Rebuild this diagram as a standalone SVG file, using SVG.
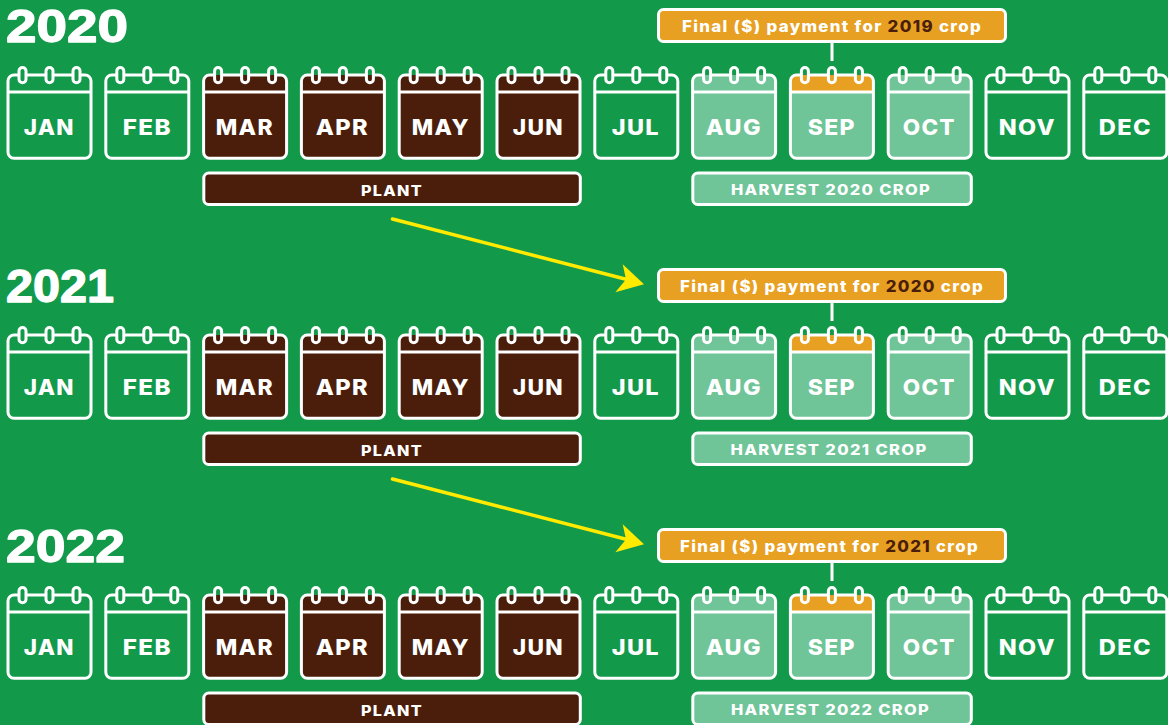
<svg xmlns="http://www.w3.org/2000/svg" width="1168" height="725" viewBox="0 0 1168 725">
<style>
text{font-family:"Inter","Liberation Sans",sans-serif;font-weight:800;fill:#fff;text-anchor:middle;letter-spacing:1px}
.y{font-family:"Liberation Sans",Arial,sans-serif;font-size:46px;font-weight:700;text-anchor:start;stroke:#fff;stroke-width:1.300px;stroke-linejoin:round;letter-spacing:0}
.m{font-size:22px;letter-spacing:1.200px}
.b{font-size:15px;letter-spacing:1.200px}
.p{font-size:15.500px;letter-spacing:1.200px}
.br{fill:#4a1e0a}
.s{fill:none;stroke:#fff;stroke-width:3}
.box{stroke:#fff;stroke-width:3}
.g{--f:#129a4a;--h:#129a4a}
.d{--f:#4a1e0a;--h:#4a1e0a}
.l{--f:#6fc498;--h:#6fc498}
.o{--f:#6fc498;--h:#e7a022}
.ar{stroke:#ffea00;stroke-width:3.500;stroke-linecap:round;fill:none}
.hd{fill:#ffea00}
.c{stroke:#fff;stroke-width:3;fill:none}
</style>
<defs>
<g id="cal">
<rect x="1.5" y="1.5" width="83" height="83" rx="6" style="fill:var(--f)"/>
<path d="M1.5 18.5V7.5a6 6 0 0 1 6-6H78.500a6 6 0 0 1 6 6V18.500Z" style="fill:var(--h)"/>
<path class="s" d="M12.500 1.500H7.500a6 6 0 0 0-6 6V78.800a6 6 0 0 0 6 6H78.500a6 6 0 0 0 6-6V7.500a6 6 0 0 0-6-6H73.500M19.500 1.500H39.500M46.500 1.500H66.500M1.500 18.500H84.500"/>
<rect class="s" x="12.500" y="-6" width="7" height="15.300" rx="3.500"/>
<rect class="s" x="39.500" y="-6" width="7" height="15.300" rx="3.500"/>
<rect class="s" x="66.500" y="-6" width="7" height="15.300" rx="3.500"/>
</g>
<g id="head"><path class="hd" d="M644 284.300L622.700 264.300L626 279.500L615.300 292.300Z"/></g>
</defs>
<rect width="1168" height="725" fill="#129a4a"/>

<g id="connectors">
<path class="c" d="M832 43V61M832 303V321M832 563V581"/>
<path class="ar" d="M392.500 219L627 279.500"/><use href="#head"/>
<path class="ar" d="M392.500 479L627 539.500"/><use href="#head" y="260"/>
</g>

<g id="year-2020"><text class="y" x="6" y="41.500" textLength="122" lengthAdjust="spacingAndGlyphs">2020</text></g>
<g id="year-2021"><text class="y" x="6" y="301.500" textLength="108" lengthAdjust="spacingAndGlyphs">2021</text></g>
<g id="year-2022"><text class="y" x="6" y="561.500" textLength="119" lengthAdjust="spacingAndGlyphs">2022</text></g>

<g id="pay-2019"><rect class="box" x="658.500" y="9.500" width="347" height="32" rx="5" fill="#e7a022"/><text class="p" x="832" y="32" textLength="300" lengthAdjust="spacingAndGlyphs">Final ($) payment for <tspan class="br">2019</tspan> crop</text></g>
<g id="pay-2020"><rect class="box" x="658.500" y="269.500" width="347" height="32" rx="5" fill="#e7a022"/><text class="p" x="832" y="292" textLength="304" lengthAdjust="spacingAndGlyphs">Final ($) payment for <tspan class="br">2020</tspan> crop</text></g>
<g id="pay-2021"><rect class="box" x="658.500" y="529.500" width="347" height="32" rx="5" fill="#e7a022"/><text class="p" x="829.500" y="552" textLength="299" lengthAdjust="spacingAndGlyphs">Final ($) payment for <tspan class="br">2021</tspan> crop</text></g>

<g id="plant-2020"><rect class="box" x="203.800" y="173" width="376.500" height="31.500" rx="5" fill="#4a1e0a"/><text class="b" x="392" y="195.500" textLength="62" lengthAdjust="spacingAndGlyphs">PLANT</text></g>
<g id="plant-2021"><rect class="box" x="203.800" y="433" width="376.500" height="31.500" rx="5" fill="#4a1e0a"/><text class="b" x="392" y="455.500" textLength="62" lengthAdjust="spacingAndGlyphs">PLANT</text></g>
<g id="plant-2022"><rect class="box" x="203.800" y="693" width="376.500" height="31.500" rx="5" fill="#4a1e0a"/><text class="b" x="392" y="715.500" textLength="62" lengthAdjust="spacingAndGlyphs">PLANT</text></g>

<g id="harvest-2020"><rect class="box" x="692.800" y="173" width="278.500" height="31.500" rx="5" fill="#6fc498"/><text class="b" x="831" y="195" textLength="200" lengthAdjust="spacingAndGlyphs">HARVEST 2020 CROP</text></g>
<g id="harvest-2021"><rect class="box" x="692.800" y="433" width="278.500" height="31.500" rx="5" fill="#6fc498"/><text class="b" x="829" y="455" textLength="197" lengthAdjust="spacingAndGlyphs">HARVEST 2021 CROP</text></g>
<g id="harvest-2022"><rect class="box" x="692.800" y="693" width="278.500" height="31.500" rx="5" fill="#6fc498"/><text class="b" x="830.500" y="715" textLength="199" lengthAdjust="spacingAndGlyphs">HARVEST 2022 CROP</text></g>

<g id="jan-2020" class="g" transform="translate(6.500 73.500)"><use href="#cal"/><text class="m" x="42.800" y="61.500" textLength="51" lengthAdjust="spacingAndGlyphs">JAN</text></g>
<g id="feb-2020" class="g" transform="translate(104.300 73.500)"><use href="#cal"/><text class="m" x="43" y="61.500" textLength="49" lengthAdjust="spacingAndGlyphs">FEB</text></g>
<g id="mar-2020" class="d" transform="translate(202.100 73.500)"><use href="#cal"/><text class="m" x="42.700" y="61.500" textLength="58" lengthAdjust="spacingAndGlyphs">MAR</text></g>
<g id="apr-2020" class="d" transform="translate(299.900 73.500)"><use href="#cal"/><text class="m" x="42.400" y="61.500" textLength="53" lengthAdjust="spacingAndGlyphs">APR</text></g>
<g id="may-2020" class="d" transform="translate(397.700 73.500)"><use href="#cal"/><text class="m" x="43.100" y="61.500" textLength="58" lengthAdjust="spacingAndGlyphs">MAY</text></g>
<g id="jun-2020" class="d" transform="translate(495.500 73.500)"><use href="#cal"/><text class="m" x="42.800" y="61.500" textLength="51" lengthAdjust="spacingAndGlyphs">JUN</text></g>
<g id="jul-2020" class="g" transform="translate(593.300 73.500)"><use href="#cal"/><text class="m" x="42.500" y="61.500" textLength="48" lengthAdjust="spacingAndGlyphs">JUL</text></g>
<g id="aug-2020" class="l" transform="translate(691.100 73.500)"><use href="#cal"/><text class="m" x="42.700" y="61.500" textLength="56" lengthAdjust="spacingAndGlyphs">AUG</text></g>
<g id="sep-2020" class="o" transform="translate(788.900 73.500)"><use href="#cal"/><text class="m" x="42.900" y="61.500" textLength="48" lengthAdjust="spacingAndGlyphs">SEP</text></g>
<g id="oct-2020" class="l" transform="translate(886.700 73.500)"><use href="#cal"/><text class="m" x="42.600" y="61.500" textLength="53" lengthAdjust="spacingAndGlyphs">OCT</text></g>
<g id="nov-2020" class="g" transform="translate(984.500 73.500)"><use href="#cal"/><text class="m" x="42.800" y="61.500" textLength="57" lengthAdjust="spacingAndGlyphs">NOV</text></g>
<g id="dec-2020" class="g" transform="translate(1082.300 73.500)"><use href="#cal"/><text class="m" x="43" y="61.500" textLength="53" lengthAdjust="spacingAndGlyphs">DEC</text></g>

<g id="jan-2021" class="g" transform="translate(6.500 333.500)"><use href="#cal"/><text class="m" x="42.800" y="61.500" textLength="51" lengthAdjust="spacingAndGlyphs">JAN</text></g>
<g id="feb-2021" class="g" transform="translate(104.300 333.500)"><use href="#cal"/><text class="m" x="43" y="61.500" textLength="49" lengthAdjust="spacingAndGlyphs">FEB</text></g>
<g id="mar-2021" class="d" transform="translate(202.100 333.500)"><use href="#cal"/><text class="m" x="42.700" y="61.500" textLength="58" lengthAdjust="spacingAndGlyphs">MAR</text></g>
<g id="apr-2021" class="d" transform="translate(299.900 333.500)"><use href="#cal"/><text class="m" x="42.400" y="61.500" textLength="53" lengthAdjust="spacingAndGlyphs">APR</text></g>
<g id="may-2021" class="d" transform="translate(397.700 333.500)"><use href="#cal"/><text class="m" x="43.100" y="61.500" textLength="58" lengthAdjust="spacingAndGlyphs">MAY</text></g>
<g id="jun-2021" class="d" transform="translate(495.500 333.500)"><use href="#cal"/><text class="m" x="42.800" y="61.500" textLength="51" lengthAdjust="spacingAndGlyphs">JUN</text></g>
<g id="jul-2021" class="g" transform="translate(593.300 333.500)"><use href="#cal"/><text class="m" x="42.500" y="61.500" textLength="48" lengthAdjust="spacingAndGlyphs">JUL</text></g>
<g id="aug-2021" class="l" transform="translate(691.100 333.500)"><use href="#cal"/><text class="m" x="42.700" y="61.500" textLength="56" lengthAdjust="spacingAndGlyphs">AUG</text></g>
<g id="sep-2021" class="o" transform="translate(788.900 333.500)"><use href="#cal"/><text class="m" x="42.900" y="61.500" textLength="48" lengthAdjust="spacingAndGlyphs">SEP</text></g>
<g id="oct-2021" class="l" transform="translate(886.700 333.500)"><use href="#cal"/><text class="m" x="42.600" y="61.500" textLength="53" lengthAdjust="spacingAndGlyphs">OCT</text></g>
<g id="nov-2021" class="g" transform="translate(984.500 333.500)"><use href="#cal"/><text class="m" x="42.800" y="61.500" textLength="57" lengthAdjust="spacingAndGlyphs">NOV</text></g>
<g id="dec-2021" class="g" transform="translate(1082.300 333.500)"><use href="#cal"/><text class="m" x="43" y="61.500" textLength="53" lengthAdjust="spacingAndGlyphs">DEC</text></g>

<g id="jan-2022" class="g" transform="translate(6.500 593.500)"><use href="#cal"/><text class="m" x="42.800" y="61.500" textLength="51" lengthAdjust="spacingAndGlyphs">JAN</text></g>
<g id="feb-2022" class="g" transform="translate(104.300 593.500)"><use href="#cal"/><text class="m" x="43" y="61.500" textLength="49" lengthAdjust="spacingAndGlyphs">FEB</text></g>
<g id="mar-2022" class="d" transform="translate(202.100 593.500)"><use href="#cal"/><text class="m" x="42.700" y="61.500" textLength="58" lengthAdjust="spacingAndGlyphs">MAR</text></g>
<g id="apr-2022" class="d" transform="translate(299.900 593.500)"><use href="#cal"/><text class="m" x="42.400" y="61.500" textLength="53" lengthAdjust="spacingAndGlyphs">APR</text></g>
<g id="may-2022" class="d" transform="translate(397.700 593.500)"><use href="#cal"/><text class="m" x="43.100" y="61.500" textLength="58" lengthAdjust="spacingAndGlyphs">MAY</text></g>
<g id="jun-2022" class="d" transform="translate(495.500 593.500)"><use href="#cal"/><text class="m" x="42.800" y="61.500" textLength="51" lengthAdjust="spacingAndGlyphs">JUN</text></g>
<g id="jul-2022" class="g" transform="translate(593.300 593.500)"><use href="#cal"/><text class="m" x="42.500" y="61.500" textLength="48" lengthAdjust="spacingAndGlyphs">JUL</text></g>
<g id="aug-2022" class="l" transform="translate(691.100 593.500)"><use href="#cal"/><text class="m" x="42.700" y="61.500" textLength="56" lengthAdjust="spacingAndGlyphs">AUG</text></g>
<g id="sep-2022" class="o" transform="translate(788.900 593.500)"><use href="#cal"/><text class="m" x="42.900" y="61.500" textLength="48" lengthAdjust="spacingAndGlyphs">SEP</text></g>
<g id="oct-2022" class="l" transform="translate(886.700 593.500)"><use href="#cal"/><text class="m" x="42.600" y="61.500" textLength="53" lengthAdjust="spacingAndGlyphs">OCT</text></g>
<g id="nov-2022" class="g" transform="translate(984.500 593.500)"><use href="#cal"/><text class="m" x="42.800" y="61.500" textLength="57" lengthAdjust="spacingAndGlyphs">NOV</text></g>
<g id="dec-2022" class="g" transform="translate(1082.300 593.500)"><use href="#cal"/><text class="m" x="43" y="61.500" textLength="53" lengthAdjust="spacingAndGlyphs">DEC</text></g>
</svg>
